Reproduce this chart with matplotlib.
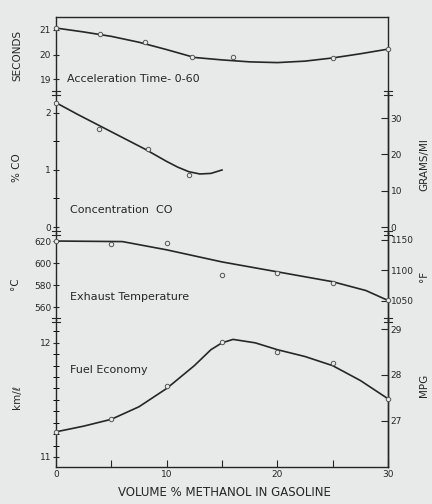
import matplotlib
matplotlib.use("Agg")
import matplotlib.pyplot as plt
from matplotlib.lines import Line2D

# --- data ---
pct_methanol_ticks = [0, 5, 10, 15, 20, 25, 30]

acc_x = [0, 4, 8, 12.3, 16, 25, 30]
acc_pts = [21.08, 20.84, 20.51, 19.90, 19.90, 19.86, 20.22]
acc_curve_x = [0, 2.5, 5, 7.5, 10, 12.5, 15, 17.5, 20, 22.5, 25, 27.5, 30]
acc_curve = [21.08, 20.92, 20.74, 20.50, 20.20, 19.88, 19.78, 19.70, 19.67, 19.73, 19.86, 20.03, 20.22]

co_x = [0, 3.9, 8.3, 12.0]
co_pts = [2.18, 1.71, 1.36, 0.91]
co_curve_x = [0, 2, 4, 6, 8, 10, 11, 12, 13, 14, 15]
co_curve = [2.18, 1.97, 1.77, 1.57, 1.37, 1.15, 1.05, 0.97, 0.93, 0.94, 1.00]

temp_x = [0, 5, 10, 15, 20, 25, 30]
temp_pts = [620, 617.3, 618, 589, 591, 582, 566]
temp_curve_x = [0, 6, 10, 15, 20, 25, 28, 30]
temp_curve = [620, 619.5, 612, 601, 592, 583, 575, 566]

fuel_x = [0, 5, 10, 15, 20, 25, 30]
fuel_pts = [11.22, 11.33, 11.62, 12.01, 11.92, 11.82, 11.51]
fuel_curve_x = [0, 2.5, 5, 7.5, 10, 12.5, 14, 15, 16, 18, 20, 22.5, 25, 27.5, 30]
fuel_curve = [11.22, 11.27, 11.33, 11.44, 11.60, 11.80, 11.94, 12.00, 12.03, 12.00, 11.94, 11.88, 11.80, 11.67, 11.51]

BG = "#e8eaea"
INK = "#262626"
W, H = 432, 504

fig = plt.figure(figsize=(W / 100, H / 100), dpi=100, facecolor=BG)

def fx(px):
    return px / W

def fy(py):
    return 1 - py / H

X0, X1 = 56, 388
# panel pixel bounds (top, bottom) and y limits (top value, bottom value)
panels = [(17, 93), (93, 233), (233, 320), (320, 467)]
ylims = [(21.53, 18.43), (2.35, -0.105), (627.3, 548.2), (12.20, 10.912)]

axes = []
for i, ((t, b), (ytop, ybot)) in enumerate(zip(panels, ylims)):
    ax = fig.add_axes([fx(X0), fy(b), fx(X1) - fx(X0), (b - t) / H])
    ax.set_facecolor("none")
    ax.set_xlim(0, 30)
    ax.set_ylim(ybot, ytop)
    for s in ax.spines.values():
        s.set_color(INK)
        s.set_linewidth(1.0)
    ax.spines["top"].set_visible(i == 0)
    ax.spines["bottom"].set_visible(i == 3)
    ax.tick_params(axis="y", direction="inout", length=5, width=0.8,
                   labelsize=6.5, colors=INK, pad=1)
    ax.tick_params(axis="y", which="minor", direction="inout", length=4, width=0.7)
    if i < 3:
        ax.tick_params(axis="x", bottom=False, labelbottom=False)
    axes.append(ax)

ax_acc, ax_co, ax_temp, ax_fuel = axes

line_kw = dict(color=INK, lw=1.2, zorder=2)
mk_kw = dict(ls="none", marker="o", ms=3.2, mfc=BG, mec="#555555", mew=0.7, zorder=3,
             clip_on=False)

ax_acc.plot(acc_curve_x, acc_curve, **line_kw)
ax_acc.plot(acc_x, acc_pts, **mk_kw)
ax_acc.set_yticks([19, 20, 21])

ax_co.plot(co_curve_x, co_curve, **line_kw)
ax_co.plot(co_x, co_pts, **mk_kw)
ax_co.set_yticks([0, 1, 2])
ax_co.set_yticks([0.5, 1.5], minor=True)

ax_temp.plot(temp_curve_x, temp_curve, **line_kw)
ax_temp.plot(temp_x, temp_pts, **mk_kw)
ax_temp.set_yticks([560, 580, 600, 620])

ax_fuel.plot(fuel_curve_x, fuel_curve, **line_kw)
ax_fuel.plot(fuel_x, fuel_pts, **mk_kw)
ax_fuel.set_yticks([11, 12])
ax_fuel.set_yticks([11.1, 11.2, 11.3, 11.4, 11.5, 11.6, 11.7, 11.8, 11.9, 12.1], minor=True)
ax_fuel.set_xticks(pct_methanol_ticks)
ax_fuel.set_xticklabels(["0", "", "10", "", "20", "", "30"])
ax_fuel.tick_params(axis="x", direction="in", length=5, width=0.8, labelsize=6.5,
                    colors=INK, pad=2)

# right-hand scales
right_kw = dict(direction="in", length=5, width=0.8, labelsize=6.5, colors=INK, pad=2)
sec_co = ax_co.secondary_yaxis("right", functions=(lambda v: v * 15.7, lambda g: g / 15.7))
sec_co.set_yticks([0, 10, 20, 30])
sec_temp = ax_temp.secondary_yaxis("right", functions=(lambda c: c * 9 / 5 + 32,
                                                       lambda f: (f - 32) * 5 / 9))
sec_temp.set_yticks([1050, 1100, 1150])
sec_fuel = ax_fuel.secondary_yaxis("right", functions=(lambda k: 28 + (k - 11.719) * 2.495,
                                                       lambda m: 11.719 + (m - 28) / 2.495))
sec_fuel.set_yticks([27, 28, 29])
for sec in (sec_co, sec_temp, sec_fuel):
    sec.tick_params(**right_kw)
    sec.spines["right"].set_color(INK)
    sec.spines["right"].set_linewidth(1.0)

# axis break marks at panel joins
for ypx in (93, 233, 320):
    for xpx in (X0, X1):
        for dy in (-1.6, 1.6):
            fig.add_artist(Line2D([fx(xpx - 4), fx(xpx + 4)], [fy(ypx + dy), fy(ypx + dy)],
                                  transform=fig.transFigure, color=INK, lw=0.8))

# labels
lab_kw = dict(color=INK, fontsize=7.5)
fig.text(fx(17), fy(55), "SECONDS", rotation=90, ha="center", va="center", **lab_kw)
fig.text(fx(17), fy(168), "% CO", rotation=90, ha="center", va="center", **lab_kw)
fig.text(fx(15), fy(284), "°C", rotation=90, ha="center", va="center", **lab_kw)
fig.text(fx(17), fy(397), "km/ℓ", rotation=90, ha="center", va="center", **lab_kw)
fig.text(fx(424), fy(165), "GRAMS/MI", rotation=90, ha="center", va="center", **lab_kw)
fig.text(fx(424), fy(276), "°F", rotation=90, ha="center", va="center", **lab_kw)
fig.text(fx(424), fy(385), "MPG", rotation=90, ha="center", va="center", **lab_kw)

fig.text(fx(224), fy(492), "VOLUME % METHANOL IN GASOLINE", ha="center", va="center",
         color=INK, fontsize=8.5)

panel_kw = dict(color=INK, fontsize=8, ha="left", va="center")
fig.text(fx(67), fy(79), "Acceleration Time- 0-60", **panel_kw)
fig.text(fx(70), fy(210), "Concentration  CO", **panel_kw)
fig.text(fx(70), fy(297), "Exhaust Temperature", **panel_kw)
fig.text(fx(70), fy(370), "Fuel Economy", **panel_kw)

fig.savefig("out.png", dpi=100, facecolor=BG)
